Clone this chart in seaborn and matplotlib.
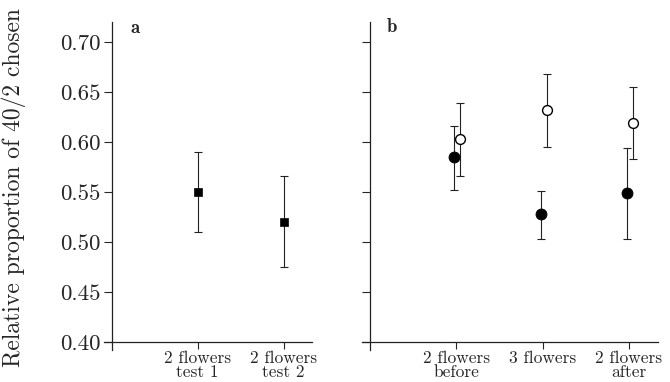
import matplotlib
matplotlib.use("Agg")
import matplotlib.pyplot as plt
import numpy as np
import pandas as pd
import seaborn as sns

# panel a: two-flower tests
a_labels = ["2 flowers\ntest 1", "2 flowers\ntest 2"]
a_mean = [0.550, 0.520]
a_low = [0.510, 0.475]
a_high = [0.590, 0.566]

# panel b: two treatments (filled / open) over three phases
b_labels = ["2 flowers\nbefore", "3 flowers", "2 flowers\nafter"]
b_filled_mean = [0.585, 0.528, 0.549]
b_filled_low = [0.552, 0.503, 0.503]
b_filled_high = [0.616, 0.551, 0.594]
b_open_mean = [0.603, 0.632, 0.619]
b_open_low = [0.566, 0.595, 0.583]
b_open_high = [0.639, 0.668, 0.655]

yticks = [0.40, 0.45, 0.50, 0.55, 0.60, 0.65, 0.70]

sns.set_theme(style="ticks")
plt.rcParams["font.family"] = ["cmr10", "DejaVu Serif"]
plt.rcParams["axes.formatter.use_mathtext"] = True

fig = plt.figure(figsize=(6.7, 3.82), dpi=100)
ax_a = fig.add_axes([104 / 670, 1 - 350 / 382, 208 / 670, 328 / 382])
ax_b = fig.add_axes([362 / 670, 1 - 350 / 382, 296 / 670, 328 / 382])


def style_axes(ax, xmax, labels, show_ylabels):
    ax.set_ylim(0.392, 0.72)
    ax.set_xlim(-0.09, xmax)
    for side in ["top", "right"]:
        ax.spines[side].set_visible(False)
    ax.spines["left"].set_position(("data", 0))
    ax.spines["bottom"].set_position(("data", 0.40))
    ax.spines["bottom"].set_bounds(-0.09, xmax)
    ax.spines["left"].set_bounds(0.392, 0.72)
    for side in ["left", "bottom"]:
        ax.spines[side].set_linewidth(0.9)
        ax.spines[side].set_color("#222222")
    ax.set_yticks(yticks)
    if show_ylabels:
        ax.set_yticklabels([f"{v:.2f}" for v in yticks], fontsize=16.5)
    else:
        ax.set_yticklabels([])
    ax.set_xticks(range(1, len(labels) + 1))
    ax.set_xticklabels(labels, fontsize=12.5, linespacing=0.9)
    ax.tick_params(axis="y", direction="out", length=6, width=0.8, pad=2)
    ax.tick_params(axis="x", direction="out", length=5, width=0.8, pad=1.5)
    ax.set_xlabel("")
    ax.set_ylabel("")
    ax.patch.set_alpha(0)


# panel a
df_a = pd.DataFrame({"x": np.arange(1, len(a_mean) + 1), "y": a_mean})
sns.scatterplot(data=df_a, x="x", y="y", ax=ax_a, marker="s", s=36,
                color="black", edgecolor="black", zorder=3, legend=False)
ax_a.errorbar(df_a["x"], a_mean,
              yerr=[np.subtract(a_mean, a_low), np.subtract(a_high, a_mean)],
              fmt="none", ecolor="#222222", elinewidth=0.8, capsize=2.8,
              capthick=0.8, zorder=2)
style_axes(ax_a, 2.33, a_labels, True)

# panel b
pos = np.arange(1, len(b_labels) + 1)
dodge = {"filled": -0.02, "open": 0.045}
df_b = pd.concat([
    pd.DataFrame({"x": pos + dodge["filled"], "y": b_filled_mean,
                  "lo": b_filled_low, "hi": b_filled_high, "group": "filled"}),
    pd.DataFrame({"x": pos + dodge["open"], "y": b_open_mean,
                  "lo": b_open_low, "hi": b_open_high, "group": "open"}),
])
for grp, g in df_b.groupby("group"):
    ax_b.errorbar(g["x"], g["y"], yerr=[g["y"] - g["lo"], g["hi"] - g["y"]],
                  fmt="none", ecolor="#222222", elinewidth=0.8, capsize=2.8,
                  capthick=0.8, zorder=2)
f = df_b[df_b["group"] == "filled"]
o = df_b[df_b["group"] == "open"]
sns.scatterplot(data=f, x="x", y="y", ax=ax_b, marker="o", s=62,
                color="black", edgecolor="black", zorder=3, legend=False)
sns.scatterplot(data=o, x="x", y="y", ax=ax_b, marker="o", s=50,
                facecolor="white", edgecolor="black", linewidth=1.0,
                zorder=3, legend=False)
style_axes(ax_b, 3.335, b_labels, False)

fig.text(135 / 670, 1 - 28 / 382, "a", fontsize=13.5, fontweight="bold",
         family=["cmb10", "DejaVu Serif"], ha="center", va="center")
fig.text(392 / 670, 1 - 27 / 382, "b", fontsize=13.5, fontweight="bold",
         family=["cmb10", "DejaVu Serif"], ha="center", va="center")
fig.text(14 / 670, 1 - 188 / 382, "Relative proportion of 40/2 chosen",
         fontsize=17, rotation=90, ha="center", va="center")

fig.savefig("out.png", dpi=100)
